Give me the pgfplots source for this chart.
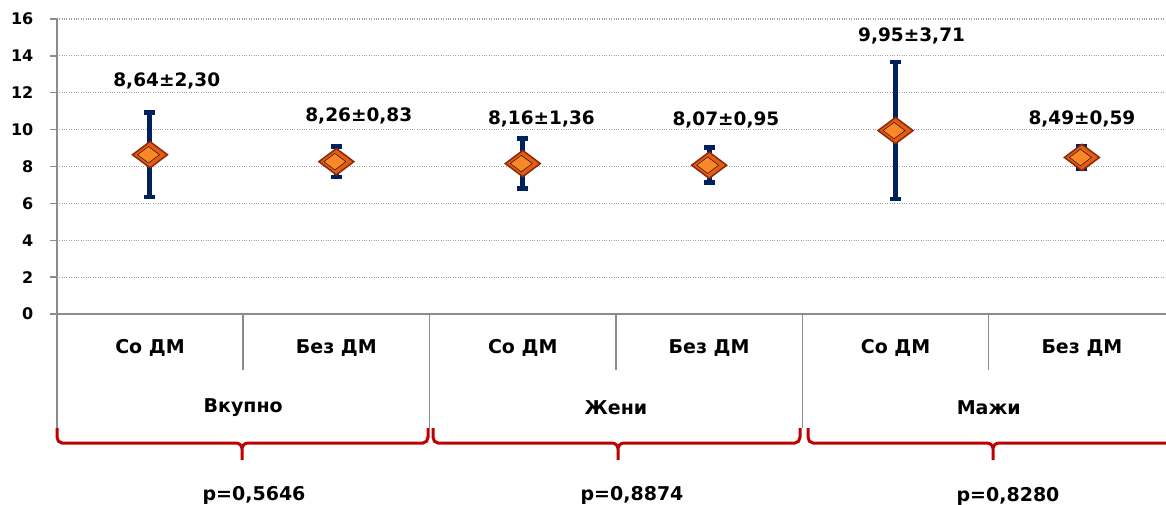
\documentclass[border=0pt]{standalone}
\usepackage{pgfplots}
\pgfplotsset{compat=1.18}
\usepackage{pgfplotstable}
\usepackage{fontspec}
\setmainfont{DejaVu Sans}
\definecolor{navy}{RGB}{0,32,96}
\definecolor{mkfill}{RGB}{228,92,16}
\definecolor{mkedge}{RGB}{140,40,12}
\definecolor{mklight}{RGB}{250,135,40}
\definecolor{brred}{RGB}{192,0,0}
\definecolor{axgray}{RGB}{140,140,140}

\pgfplotstableread{
x y err
0 8.64 2.30
1 8.26 0.83
2 8.16 1.36
3 8.07 0.95
4 9.95 3.71
5 8.49 0.59
}\datatable

\begin{document}
\begin{tikzpicture}[x=1pt,y=1pt]
\begin{axis}[
  at={(56.8pt,190pt)}, anchor=south west,
  scale only axis, width=1118.4pt, height=295pt,
  xmin=-0.5, xmax=5.5, ymin=0, ymax=16,
  ytick={0,2,...,16}, xtick=\empty,
  axis x line*=bottom, axis y line*=left,
  axis line style={axgray, line width=1.5pt},
  ymajorgrids, major grid style={dotted, gray!75, line width=1.1pt},
  /pgf/number format/assume math mode=true,
  yticklabel style={font=\fontsize{16}{16}\selectfont\bfseries, xshift=-13pt},
  ytick style={draw=axgray, line width=1.5pt},
  ytick align=outside, major tick length=7pt,
  clip=false]
\addplot[navy, only marks, mark=none,
  error bars/.cd, y dir=both, y explicit,
  error bar style={navy, line width=5pt},
  error mark=|, error mark options={navy, line width=4.5pt, mark size=5.5pt}]
  table[x=x, y=y, y error=err]{\datatable};
\addplot[only marks, mark=diamond*, mark size=17.5pt,
  mark options={rotate=90, fill=mkfill, draw=mkedge, line width=1.5pt}]
  table[x=x, y=y]{\datatable};
\addplot[only marks, mark=diamond*, mark size=11pt,
  mark options={rotate=90, fill=mklight, draw=none, yshift=1.5pt}]
  table[x=x, y=y]{\datatable};
% y tick marks
\pgfplotsinvokeforeach{0,2,...,16}{
  \draw[axgray, line width=1.5pt] (axis cs:-0.5,#1) -- ([xshift=-7pt]axis cs:-0.5,#1);
}
% divider lines of category table
\draw[axgray, line width=1.5pt] (axis cs:-0.5,0) -- (axis cs:-0.5,-6.18);
\draw[axgray, line width=1.5pt] (axis cs:1.5,0) -- (axis cs:1.5,-6.18);
\draw[axgray, line width=1.5pt] (axis cs:3.5,0) -- (axis cs:3.5,-6.18);
\draw[axgray, line width=1.5pt] (axis cs:0.5,0) -- (axis cs:0.5,-3.04);
\draw[axgray, line width=1.5pt] (axis cs:2.5,0) -- (axis cs:2.5,-3.04);
\draw[axgray, line width=1.5pt] (axis cs:4.5,0) -- (axis cs:4.5,-3.04);
% data labels
\begin{scope}[every node/.style={font=\fontsize{18.5}{18.5}\selectfont\bfseries}]
\node at (axis cs:0.09,12.66) {8,64±2,30};
\node at (axis cs:1.12,10.76) {8,26±0,83};
\node at (axis cs:2.10,10.60) {8,16±1,36};
\node at (axis cs:3.09,10.52) {8,07±0,95};
\node at (axis cs:4.086,15.08) {9,95±3,71};
\node at (axis cs:5.0,10.57) {8,49±0,59};
\end{scope}
% category labels
\begin{scope}[every node/.style={font=\fontsize{19}{19}\selectfont\bfseries}]
\node at (axis cs:0,-1.84) {Со ДМ};
\node at (axis cs:1,-1.84) {Без ДМ};
\node at (axis cs:2,-1.84) {Со ДМ};
\node at (axis cs:3,-1.84) {Без ДМ};
\node at (axis cs:4,-1.84) {Со ДМ};
\node at (axis cs:5,-1.84) {Без ДМ};
\node at (axis cs:0.5,-5.1) {Вкупно};
\node at (axis cs:2.5,-5.1) {Жени};
\node at (axis cs:4.5,-5.1) {Мажи};
\end{scope}
\end{axis}
% braces
\begin{scope}[brred, line width=3pt]
\draw (57,76) -- (57,67) to[out=-90,in=180] (62,61) -- (236,61) to[out=0,in=90] (242,55) -- (242,44)
      (242,55) to[out=90,in=180] (248,61) -- (423,61) to[out=0,in=-90] (428,67) -- (428,76);
\draw (433,76) -- (433,67) to[out=-90,in=180] (438,61) -- (612,61) to[out=0,in=90] (618,55) -- (618,44)
      (618,55) to[out=90,in=180] (624,61) -- (795,61) to[out=0,in=-90] (800,67) -- (800,76);
\draw (808,76) -- (808,67) to[out=-90,in=180] (813,61) -- (987,61) to[out=0,in=90] (993,55) -- (993,44)
      (993,55) to[out=90,in=180] (999,61) -- (1185,61);
\end{scope}
\begin{scope}[every node/.style={anchor=base, font=\fontsize{19}{19}\selectfont\bfseries}]
\node at (254,3.5) {p=0,5646};
\node at (632,3.5) {p=0,8874};
\node at (1008,2.5) {p=0,8280};
\end{scope}
\pgfresetboundingbox
\path (0,0) rectangle (1166,504);
\end{tikzpicture}
\end{document}
